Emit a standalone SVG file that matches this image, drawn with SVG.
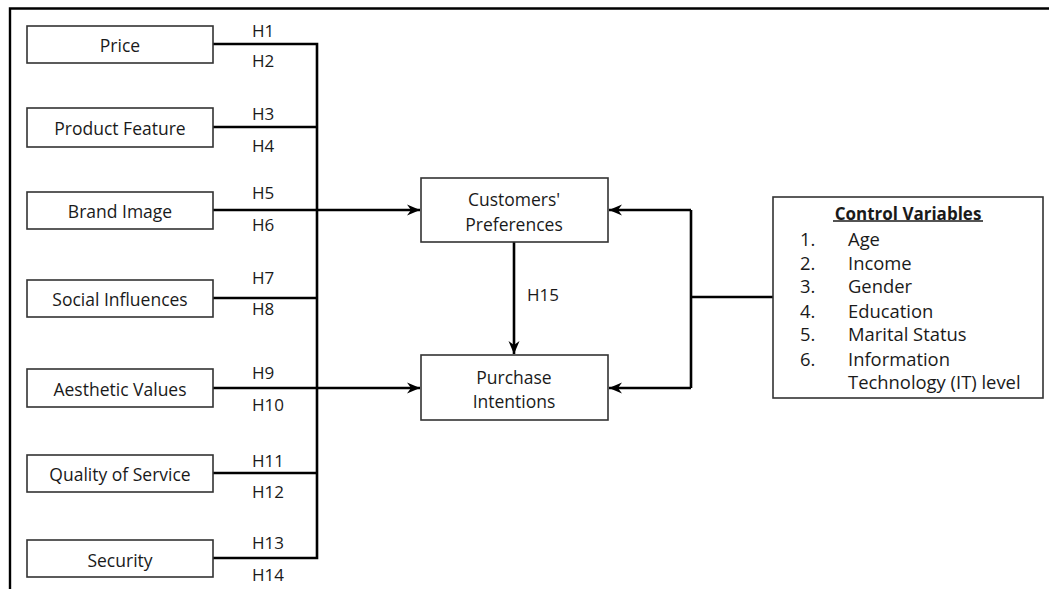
<svg xmlns="http://www.w3.org/2000/svg" width="1049" height="589" viewBox="0 0 1049 589">
<defs>
<marker id="ah" markerWidth="14" markerHeight="12" refX="13" refY="6" orient="auto" markerUnits="userSpaceOnUse">
<path d="M0,0.5 L13,6 L0,11.5 L4,6 Z" fill="#000"/>
</marker>
<style>
.box{fill:#fff;stroke:#333;stroke-width:1.6}
.t{font-family:"Open Sans","Liberation Sans",sans-serif;font-size:17.5px;fill:#1a1a1a;text-anchor:middle;dominant-baseline:central}
.h{font-family:"Open Sans","Liberation Sans",sans-serif;font-size:17px;fill:#1a1a1a;dominant-baseline:central}
.c{font-family:"Open Sans","Liberation Sans",sans-serif;font-size:18.4px;fill:#1a1a1a;dominant-baseline:central}
.ttl{font-family:"Open Sans","Liberation Sans",sans-serif;font-size:17px;font-weight:bold;fill:#1a1a1a;text-anchor:middle;dominant-baseline:central}
.ln{fill:none;stroke:#000;stroke-width:2.6}
</style>
</defs>
<rect width="1049" height="589" fill="#fff"/>
<path d="M10,589 V8.5 H1049" fill="none" stroke="#000" stroke-width="2.4"/>
<g id="connectors">
<path class="ln" d="M213,44 H317 V558 H213"/>
<path class="ln" d="M213,127 H317"/>
<path class="ln" d="M213,298 H317"/>
<path class="ln" d="M213,473 H317"/>
<path class="ln" d="M213,210 H420" marker-end="url(#ah)"/>
<path class="ln" d="M213,388 H420" marker-end="url(#ah)"/>
<path class="ln" d="M514,242 V354" marker-end="url(#ah)"/>
<path class="ln" d="M773,297 H691"/>
<path class="ln" d="M691,210 V388"/>
<path class="ln" d="M691,210 H609" marker-end="url(#ah)"/>
<path class="ln" d="M691,388 H609" marker-end="url(#ah)"/>
<text class="h" x="252" y="30">H1</text>
<text class="h" x="252" y="60">H2</text>
<text class="h" x="252" y="113">H3</text>
<text class="h" x="252" y="145">H4</text>
<text class="h" x="252" y="192">H5</text>
<text class="h" x="252" y="224">H6</text>
<text class="h" x="252" y="277">H7</text>
<text class="h" x="252" y="308">H8</text>
<text class="h" x="252" y="372">H9</text>
<text class="h" x="252" y="404">H10</text>
<text class="h" x="252" y="460">H11</text>
<text class="h" x="252" y="491">H12</text>
<text class="h" x="252" y="542">H13</text>
<text class="h" x="252" y="574">H14</text>
<text class="h" x="527" y="294">H15</text>
</g>
<g id="price"><rect class="box" x="27" y="26" width="186" height="37"/><text class="t" x="120" y="45">Price</text></g>
<g id="product-feature"><rect class="box" x="27" y="108" width="186" height="39"/><text class="t" x="120" y="128">Product Feature</text></g>
<g id="brand-image"><rect class="box" x="27" y="192" width="186" height="37"/><text class="t" x="120" y="211">Brand Image</text></g>
<g id="social-influences"><rect class="box" x="27" y="280" width="186" height="37"/><text class="t" x="120" y="299">Social Influences</text></g>
<g id="aesthetic-values"><rect class="box" x="27" y="369" width="186" height="38"/><text class="t" x="120" y="389">Aesthetic Values</text></g>
<g id="quality-of-service"><rect class="box" x="27" y="455" width="186" height="37"/><text class="t" x="120" y="474">Quality of Service</text></g>
<g id="security"><rect class="box" x="27" y="540" width="186" height="37"/><text class="t" x="120" y="560">Security</text></g>
<g id="customers-preferences"><rect class="box" x="421" y="178" width="187" height="64"/><text class="t" x="514" y="199">Customers'</text><text class="t" x="514" y="224">Preferences</text></g>
<g id="purchase-intentions"><rect class="box" x="421" y="355" width="187" height="65"/><text class="t" x="514" y="377">Purchase</text><text class="t" x="514" y="401">Intentions</text></g>
<g id="control-variables">
<rect class="box" x="773" y="197" width="270" height="201"/>
<text class="ttl" x="908" y="213">Control Variables</text>
<line x1="833" y1="221" x2="983" y2="221" stroke="#1a1a1a" stroke-width="1.3"/>
<text class="c" x="800" y="238">1.</text><text class="c" x="848" y="238">Age</text>
<text class="c" x="800" y="262">2.</text><text class="c" x="848" y="262">Income</text>
<text class="c" x="800" y="285">3.</text><text class="c" x="848" y="285">Gender</text>
<text class="c" x="800" y="310">4.</text><text class="c" x="848" y="310">Education</text>
<text class="c" x="800" y="333">5.</text><text class="c" x="848" y="333">Marital Status</text>
<text class="c" x="800" y="358">6.</text><text class="c" x="848" y="358">Information</text>
<text class="c" x="848" y="381">Technology (IT) level</text>
</g>
</svg>
